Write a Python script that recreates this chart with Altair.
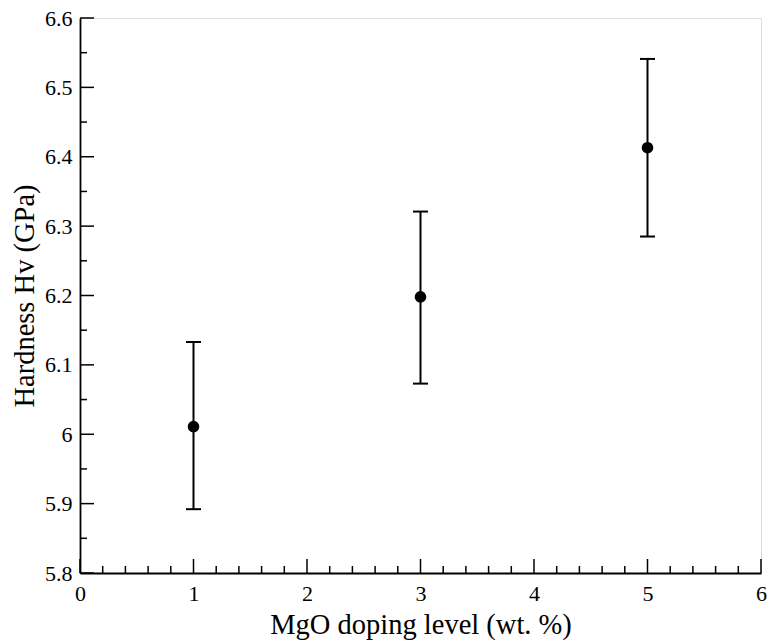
import altair as alt
import pandas as pd

# data
mgo_level = [1, 3, 5]
hardness = [6.011, 6.198, 6.413]
err_low = [5.892, 6.073, 6.285]
err_high = [6.133, 6.321, 6.541]

x_major = [0, 1, 2, 3, 4, 5, 6]
x_minor = [round(i * 0.2, 1) for i in range(31) if i % 5 != 0]
y_major = [5.8, 5.9, 6.0, 6.1, 6.2, 6.3, 6.4, 6.5, 6.6]
y_minor = [5.85, 5.95, 6.05, 6.15, 6.25, 6.35, 6.45, 6.55]

W, H = 681, 555
FONT = "Liberation Serif"
X_TITLE = "MgO doping level (wt. %)"
Y_TITLE = "Hardness Hv (GPa)"

df = pd.DataFrame({"x": mgo_level, "y": hardness, "lo": err_low, "hi": err_high})
xs = alt.Scale(domain=[0, 6], nice=False, zero=False)
ys = alt.Scale(domain=[5.8, 6.6], nice=False, zero=False)

X_AX = alt.Axis(values=x_major, ticks=False, grid=False, domainColor="black",
                domainWidth=1.8, labelFont=FONT, labelFontSize=22, labelColor="black",
                labelPadding=10, labelFlush=False, titleFont=FONT, titleFontSize=28.5,
                titleFontWeight="normal", titleColor="black", titleY=60,
                titleBaseline="alphabetic", format="d")
Y_AX = alt.Axis(values=y_major, ticks=False, grid=False, domainColor="black",
                domainWidth=1.8, labelFont=FONT, labelFontSize=22, labelColor="black",
                labelPadding=8, labelFlush=False, labelBaseline="middle",
                labelExpr="format(datum.value, '.1~f')",
                titleFont=FONT, titleFontSize=28.5, titleFontWeight="normal",
                titleColor="black", titleX=-47, titleBaseline="alphabetic")


def X(field):
    return alt.X(field, type="quantitative", scale=xs, title=X_TITLE, axis=X_AX)


def Y(field):
    return alt.Y(field, type="quantitative", scale=ys, title=Y_TITLE, axis=Y_AX)


base = alt.Chart(df)

points = base.mark_point(filled=True, shape="circle", size=135, color="black", opacity=1).encode(
    x=X("x"), y=Y("y"),
)

bars = base.mark_rule(color="black", strokeWidth=2).encode(
    x=X("x"), y=Y("lo"), y2="hi:Q",
)

cap_lo = base.mark_rule(color="black", strokeWidth=2, xOffset=-7.5, x2Offset=7.5).encode(
    x=X("x"), x2="x:Q", y=Y("lo"),
)
cap_hi = base.mark_rule(color="black", strokeWidth=2, xOffset=-7.5, x2Offset=7.5).encode(
    x=X("x"), x2="x:Q", y=Y("hi"),
)


def xticks(vals, length):
    return alt.Chart(pd.DataFrame({"x": vals})).mark_rule(color="black", strokeWidth=1.5).encode(
        x=X("x"), y=alt.value(H), y2=alt.value(H - length),
    )


def yticks(vals, length):
    return alt.Chart(pd.DataFrame({"y": vals})).mark_rule(color="black", strokeWidth=1.5).encode(
        y=Y("y"), x=alt.value(0), x2=alt.value(length),
    )


chart = alt.layer(
    points, bars, cap_lo, cap_hi,
    xticks(x_major, 14), xticks(x_minor, 7),
    yticks(y_major, 14), yticks(y_minor, 7),
).properties(
    width=W, height=H,
    autosize=alt.AutoSizeParams(type="none"),
    padding={"left": 80, "top": 18, "right": 7, "bottom": 67},
    background="white",
).configure_view(stroke=None).configure_axis(
    labelFont=FONT, titleFont=FONT, labelFontSize=22, labelColor="black"
).configure(font=FONT)

chart.save("out.html", embed_options={"renderer": "svg", "actions": False})
